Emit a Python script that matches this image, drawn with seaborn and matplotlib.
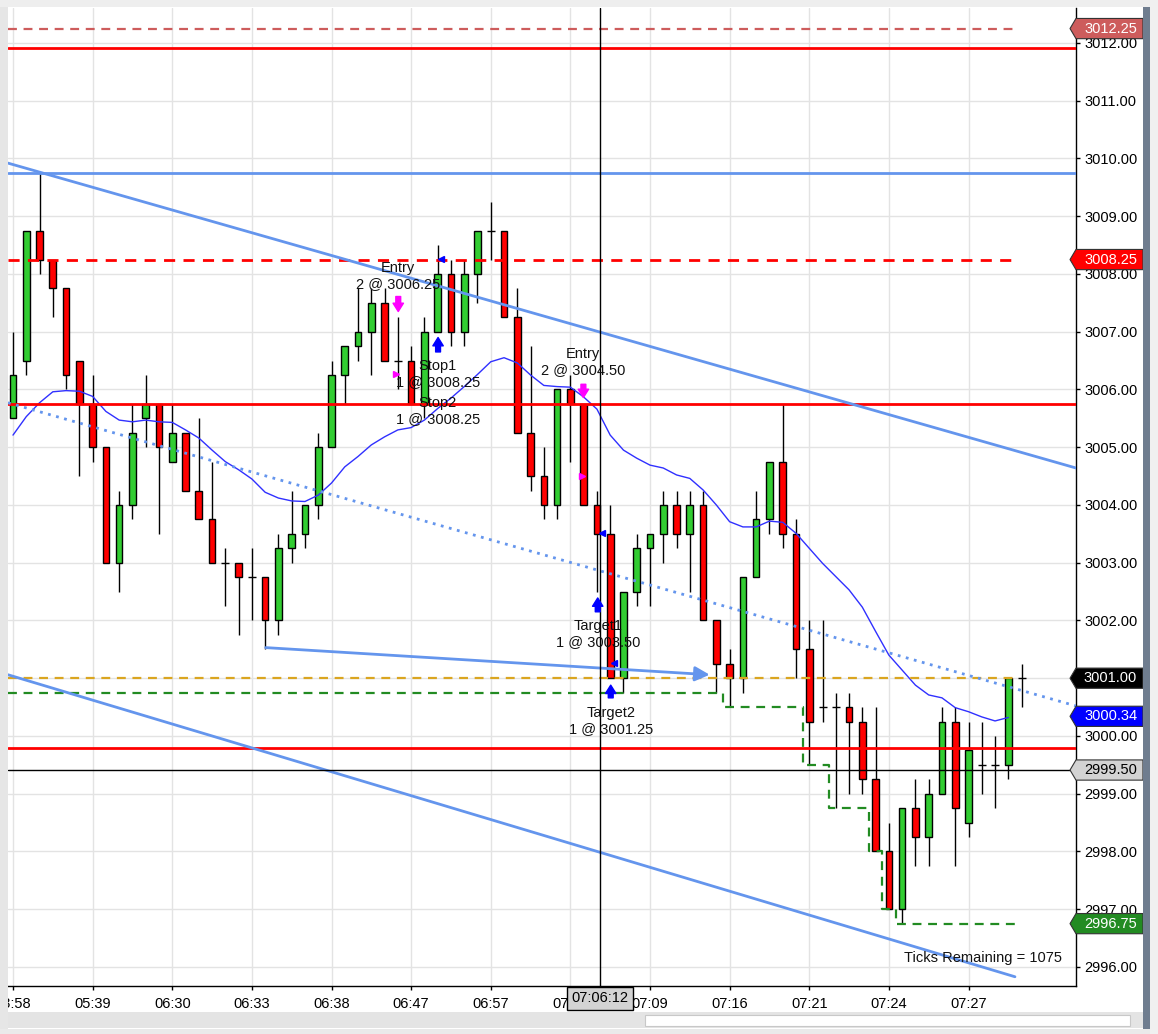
import numpy as np
import pandas as pd
import seaborn as sns
import matplotlib
matplotlib.use("Agg")
import matplotlib.pyplot as plt
from matplotlib.patches import Polygon, Rectangle
from matplotlib.transforms import blended_transform_factory

# ---- data ----
opens = [3005.5, 3006.5, 3008.75, 3008.25, 3007.75, 3006.5, 3005.75, 3005.0, 3003.0, 3004.0,
         3005.5, 3005.75, 3004.75, 3005.25, 3004.25, 3003.75, 3003.0, 3003.0, 3002.75, 3002.75,
         3002.0, 3003.25, 3003.5, 3004.0, 3005.0, 3006.25, 3006.75, 3007.0, 3007.5, 3006.5,
         3006.5, 3005.75, 3007.0, 3008.0, 3007.0, 3008.0, 3008.75, 3008.75, 3007.25, 3005.25,
         3004.5, 3004.0, 3006.0, 3005.75, 3004.0, 3003.5, 3001.0, 3002.5, 3003.25, 3003.5,
         3004.0, 3003.5, 3004.0, 3002.0, 3001.25, 3001.0, 3002.75, 3003.75, 3004.75, 3003.5,
         3001.5, 3000.5, 3000.5, 3000.5, 3000.25, 2999.25, 2998.0, 2997.0, 2998.75, 2998.25,
         2999.0, 3000.25, 2998.5, 2999.5, 2999.5, 2999.5, 3001.0]
highs = [3007.0, 3008.75, 3009.75, 3008.25, 3007.75, 3006.5, 3006.25, 3005.0, 3004.25, 3005.75,
         3006.25, 3005.75, 3005.75, 3005.25, 3005.5, 3004.75, 3003.25, 3003.0, 3003.25, 3002.75,
         3003.5, 3004.25, 3004.0, 3005.25, 3006.5, 3006.75, 3007.75, 3007.75, 3007.75, 3007.25,
         3006.75, 3007.25, 3008.5, 3008.25, 3008.25, 3008.75, 3009.25, 3008.75, 3007.75, 3006.75,
         3005.0, 3006.0, 3006.25, 3005.75, 3004.25, 3004.0, 3002.5, 3003.5, 3003.5, 3004.25,
         3004.25, 3004.25, 3004.25, 3002.0, 3001.5, 3002.75, 3004.25, 3004.75, 3005.75, 3003.75,
         3002.0, 3002.0, 3000.75, 3000.75, 3000.5, 3000.5, 2998.5, 2998.75, 2999.25, 2999.25,
         3000.5, 3000.5, 3000.25, 3000.25, 3000.0, 3001.0, 3001.25]
lows = [3005.5, 3006.25, 3008.0, 3007.25, 3006.0, 3004.5, 3004.75, 3003.0, 3002.5, 3003.75,
        3005.0, 3003.5, 3004.75, 3004.25, 3003.75, 3003.0, 3002.25, 3001.75, 3002.0, 3001.5,
        3001.75, 3003.0, 3003.25, 3003.75, 3005.0, 3005.75, 3006.5, 3006.25, 3006.5, 3006.0,
        3005.75, 3005.5, 3007.0, 3006.75, 3006.75, 3007.5, 3008.25, 3007.25, 3005.25, 3004.25,
        3003.75, 3003.75, 3004.75, 3004.0, 3002.5, 3001.0, 3000.75, 3002.25, 3002.25, 3003.0,
        3003.25, 3002.5, 3002.0, 3000.75, 3000.5, 3000.75, 3002.75, 3003.5, 3003.25, 3001.0,
        2999.5, 3000.25, 2998.75, 2999.0, 2999.0, 2998.0, 2997.0, 2996.75, 2997.75, 2997.75,
        2999.0, 2997.75, 2998.25, 2999.0, 2998.75, 2999.25, 3000.5]
closes = [3006.25, 3008.75, 3008.25, 3007.75, 3006.25, 3005.75, 3005.0, 3003.0, 3004.0, 3005.25,
          3005.75, 3005.0, 3005.25, 3004.25, 3003.75, 3003.0, 3003.0, 3002.75, 3002.75, 3002.0,
          3003.25, 3003.5, 3004.0, 3005.0, 3006.25, 3006.75, 3007.0, 3007.5, 3006.5, 3006.5,
          3005.75, 3007.0, 3008.0, 3007.0, 3008.0, 3008.75, 3008.75, 3007.25, 3005.25, 3004.5,
          3004.0, 3006.0, 3005.75, 3004.0, 3003.5, 3001.0, 3002.5, 3003.25, 3003.5, 3004.0,
          3003.5, 3004.0, 3002.0, 3001.25, 3001.0, 3002.75, 3003.75, 3004.75, 3003.5, 3001.5,
          3000.25, 3000.5, 3000.5, 3000.25, 2999.25, 2998.0, 2997.0, 2998.75, 2998.25, 2999.0,
          3000.25, 2998.75, 2999.75, 2999.5, 2999.5, 3001.0, 3001.0]

moving_avg = [3005.21, 3005.53, 3005.77, 3005.96, 3005.98, 3005.97, 3005.88, 3005.62, 3005.47, 3005.44,
              3005.47, 3005.44, 3005.43, 3005.30, 3005.16, 3004.95, 3004.75, 3004.61, 3004.45, 3004.22,
              3004.12, 3004.07, 3004.06, 3004.17, 3004.38, 3004.66, 3004.84, 3005.04, 3005.18, 3005.30,
              3005.34, 3005.47, 3005.67, 3005.85, 3006.05, 3006.26, 3006.48, 3006.55, 3006.46, 3006.25,
              3006.07, 3006.05, 3006.04, 3005.87, 3005.66, 3005.21, 3004.95, 3004.81, 3004.69, 3004.64,
              3004.52, 3004.46, 3004.26, 3004.00, 3003.71, 3003.62, 3003.62, 3003.72, 3003.70, 3003.51,
              3003.25, 3002.99, 3002.76, 3002.53, 3002.23, 3001.81, 3001.40, 3001.14, 3000.88, 3000.71,
              3000.66, 3000.49, 3000.42, 3000.33, 3000.26, 3000.32]

tick_pos = [0, 6, 12, 18, 24, 30, 36, 42, 48, 54, 60, 66, 72]
tick_labels = ["03:58", "05:39", "06:30", "06:33", "06:38", "06:47", "06:57", "07:03",
               "07:09", "07:16", "07:21", "07:24", "07:27"]
price_ticks = list(range(2996, 3013))

# stop step line (green dashed)
stop_x = [-0.4, 53.5, 53.5, 59.5, 59.5, 61.5, 61.5, 64.5, 64.5, 65.5, 65.5, 66.5, 66.5, 75.5]
stop_y = [3000.75, 3000.75, 3000.5, 3000.5, 2999.5, 2999.5, 2998.75, 2998.75, 2998.0, 2998.0,
          2997.0, 2997.0, 2996.75, 2996.75]

# trend lines
upper_chan = ([-0.38, 80.1], [3009.92, 3004.64])
lower_chan = ([-0.38, 75.5], [3001.06, 2995.83])
mid_dotted = ([-0.38, 80.1], [3005.77, 3000.52])
arrow_line = ((19.04, 3001.53), (52.5, 3001.06))

# trade labels
trade_texts = [(29.0, 3007.97, "Entry\n2 @ 3006.25"),
               (32.0, 3006.27, "Stop1\n1 @ 3008.25"),
               (32.0, 3005.63, "Stop2\n1 @ 3008.25"),
               (42.96, 3006.47, "Entry\n2 @ 3004.50"),
               (44.08, 3001.77, "Target1\n1 @ 3003.50"),
               (45.06, 3000.26, "Target2\n1 @ 3001.25")]
# (x, tail price, tip price, colour)
exec_arrows = [(29.03, 3007.61, 3007.35, "#ff00ff"),
               (32.03, 3006.65, 3006.90, "#0000ff"),
               (42.98, 3006.09, 3005.86, "#ff00ff"),
               (44.06, 3002.15, 3002.39, "#0000ff"),
               (45.04, 3000.66, 3000.88, "#0000ff")]
exec_marks = [(28.86, 3006.26, ">", "#ff00ff"),
              (32.25, 3008.26, "<", "#0000ff"),
              (42.86, 3004.51, ">", "#ff00ff"),
              (44.36, 3003.51, "<", "#0000ff"),
              (45.29, 3001.26, "<", "#0000ff")]

# right-axis price flags: (price, text, face, text colour)
flags = [(3012.25, "3012.25", "#cd5c5c", "white"),
         (3008.25, "3008.25", "#ff0000", "white"),
         (3001.00, "3001.00", "#000000", "white"),
         (3000.34, "3000.34", "#0000ff", "white"),
         (2999.41, "2999.50", "#d3d3d3", "black"),
         (2996.75, "2996.75", "#228b22", "white")]

cross_x, cross_y = 44.24, 2999.41

# ---- figure ----
sns.set_style("white")
plt.rcParams['font.family'] = ['Liberation Sans', 'DejaVu Sans']

W, H = 1158, 1034
fig = plt.figure(figsize=(W / 100, H / 100), dpi=100)
fig.patch.set_facecolor("white")
ax = fig.add_axes([8 / W, (H - 986) / H, 1068 / W, 978 / H])
ax.set_xlim(-0.377, 80.1)
ax.set_ylim(2995.67, 3012.606)

# grid
for t in tick_pos:
    ax.axvline(t, color="#e3e3e3", lw=1, zorder=0)
for p in price_ticks:
    ax.axhline(p, color="#e3e3e3", lw=1, zorder=0)

# candles
idx = np.arange(len(opens))
o = np.array(opens); c = np.array(closes)
ax.vlines(idx, lows, highs, color="black", lw=1, zorder=2)
body_lo = np.minimum(o, c)
body_h = np.abs(c - o)
up = c > o
down = c < o
ax.bar(idx[up], body_h[up], bottom=body_lo[up], width=0.5, color="#32cd32",
       edgecolor="black", linewidth=1, zorder=3)
ax.bar(idx[down], body_h[down], bottom=body_lo[down], width=0.5, color="#ff0000",
       edgecolor="black", linewidth=1, zorder=3)
doji = c == o
ax.hlines(c[doji], idx[doji] - 0.3, idx[doji] + 0.3, color="black", lw=1, zorder=3)

# moving average
ma = pd.DataFrame({"bar": np.arange(len(moving_avg)), "ma": moving_avg})
sns.lineplot(data=ma, x="bar", y="ma", color="#3030ff", lw=1, ax=ax, zorder=4)

# horizontal drawing objects
ax.hlines(3012.25, -0.4, 75.5, color="#cd5c5c", lw=1.6, linestyles=(0, (4, 3)), zorder=5)
ax.axhline(3011.92, color="#ff0000", lw=2, zorder=5)
ax.axhline(3009.75, color="#6495ed", lw=2, zorder=5)
ax.hlines(3008.25, -0.4, 75.3, color="#ff0000", lw=2, linestyles=(0, (4, 3)), zorder=5)
ax.axhline(3005.75, color="#ff0000", lw=2, zorder=5)
ax.hlines(3001.0, -0.4, 75.5, color="#daa520", lw=1.6, linestyles=(0, (4, 3)), zorder=5)
ax.axhline(2999.80, color="#ff0000", lw=2, zorder=5)
ax.plot(stop_x, stop_y, color="#228b22", lw=1.6, ls=(0, (4, 3)), zorder=5)

# trend lines
ax.plot(*upper_chan, color="#6495ed", lw=2, zorder=5)
ax.plot(*lower_chan, color="#6495ed", lw=2, zorder=5)
ax.plot(*mid_dotted, color="#6495ed", lw=2, ls=(0, (1, 2)), zorder=5)
ax.annotate("", xy=arrow_line[1], xytext=arrow_line[0],
            arrowprops=dict(arrowstyle="-|>", color="#6495ed", lw=2, mutation_scale=22,
                            shrinkA=0, shrinkB=0), zorder=5)

# crosshair
ax.axvline(cross_x, color="black", lw=1, zorder=6)
ax.axhline(cross_y, color="black", lw=1, zorder=6)

# executions
for x, tail, tip, col in exec_arrows:
    ax.annotate("", xy=(x, tip), xytext=(x, tail),
                arrowprops=dict(arrowstyle="simple,head_length=0.6,head_width=0.75,tail_width=0.35",
                                color=col, mutation_scale=10, shrinkA=0, shrinkB=0), zorder=7)
for x, y, m, col in exec_marks:
    ax.plot(x, y, marker=m, color=col, markersize=5, zorder=7)
for x, y, s in trade_texts:
    ax.text(x, y, s, ha="center", va="center", fontsize=10.5, color="#111111", zorder=8)

ax.text(0.987, 0.0286, "Ticks Remaining = 1075", transform=ax.transAxes,
        ha="right", va="center", fontsize=10.5, color="#111111", zorder=8)

# axes styling
for side in ["top", "left"]:
    ax.spines[side].set_visible(False)
for side in ["right", "bottom"]:
    ax.spines[side].set_color("black")
    ax.spines[side].set_linewidth(1)
ax.yaxis.tick_right()
ax.set_yticks(price_ticks)
ax.set_yticklabels([f"{p:.2f}" for p in price_ticks])
ax.set_xticks(tick_pos)
ax.set_xticklabels(tick_labels)
ax.tick_params(axis="y", direction="out", length=3, width=1, pad=3, labelsize=10.5,
               colors="black", right=True, left=False)
ax.tick_params(axis="x", direction="out", length=3, width=1, pad=5, labelsize=10.5,
               colors="black", bottom=True)
ax.set_xlabel("")
ax.set_ylabel("")

# price flags on the right axis
tr = blended_transform_factory(ax.transAxes, ax.transData)
fh = 0.175
for p, s, face, tc in flags:
    tip_x, x0, x1 = 0.9944, 1.0, 1.0627
    poly = Polygon([(tip_x, p), (x0, p + fh), (x1, p + fh), (x1, p - fh), (x0, p - fh)],
                   closed=True, transform=tr, facecolor=face, edgecolor="#333333", lw=0.8,
                   clip_on=False, zorder=9)
    ax.add_patch(poly)
    ax.text((x0 + x1) / 2 + 0.001, p, s, transform=tr, ha="center", va="center",
            fontsize=10.5, color=tc, zorder=10, clip_on=False)

# crosshair time flag
trx = blended_transform_factory(ax.transData, ax.transAxes)
ax.text(cross_x, -0.0125, "07:06:12", transform=trx, ha="center", va="center", fontsize=10.5,
        color="black", zorder=10, clip_on=False,
        bbox=dict(boxstyle="square,pad=0.3", facecolor="#d3d3d3", edgecolor="black", lw=1))

# window frame bits
def fig_rect(x, y, w, h, **kw):
    fig.patches.append(Rectangle((x / W, 1 - (y + h) / H), w / W, h / H,
                                 transform=fig.transFigure, **kw))

fig_rect(0, 0, 8, H, facecolor="#e6e6e6", edgecolor="none", zorder=20)
fig_rect(0, 0, W, 7, facecolor="#eeeeee", edgecolor="none", zorder=20)
fig_rect(8, 1012, 1135, 16, facecolor="#e4e4e4", edgecolor="none", zorder=20)
fig_rect(645, 1015, 485, 11, facecolor="white", edgecolor="#c8c8c8", lw=0.8, zorder=21)
fig_rect(1143, 7, 7, 1022, facecolor="#6f7d8f", edgecolor="none", zorder=20)
fig_rect(0, 1029, W, 5, facecolor="#eaeaea", edgecolor="none", zorder=20)
fig_rect(1150, 0, 8, H, facecolor="#f0f0f0", edgecolor="none", zorder=20)

fig.savefig("out.png", dpi=100)
